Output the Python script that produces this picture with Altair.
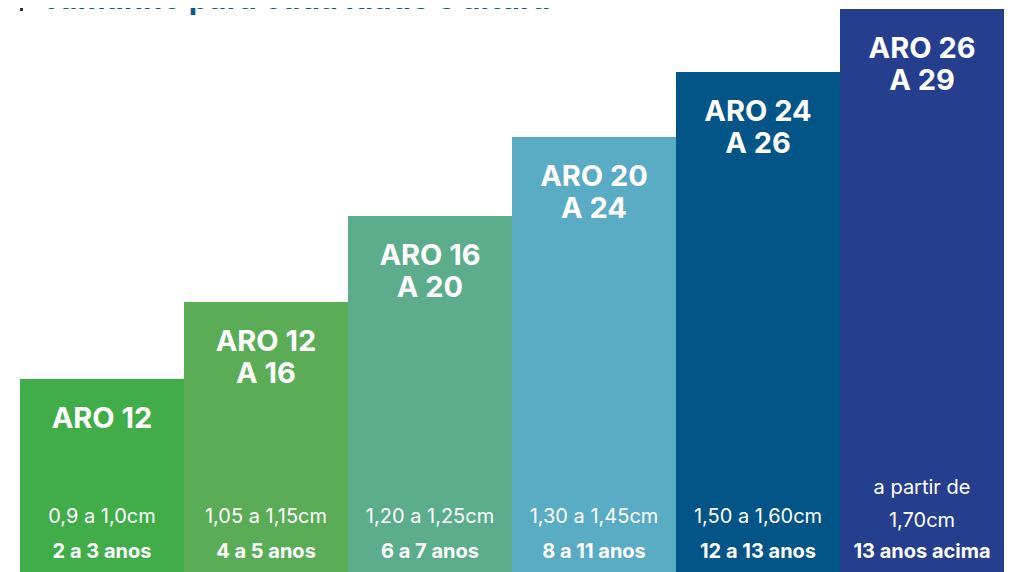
import altair as alt
import pandas as pd

# Data
aros = ["ARO 12", "ARO 12\nA 16", "ARO 16\nA 20", "ARO 20\nA 24", "ARO 24\nA 26", "ARO 26\nA 29"]
alturas = ["0,9 a 1,0cm", "1,05 a 1,15cm", "1,20 a 1,25cm", "1,30 a 1,45cm", "1,50 a 1,60cm", "a partir de\n1,70cm"]
idades = ["2 a 3 anos", "4 a 5 anos", "6 a 7 anos", "8 a 11 anos", "12 a 13 anos", "13 anos acima"]
nivel = [193, 270, 356, 435, 500, 563]
cores = ["#40ad49", "#5aad56", "#5bad8b", "#5aabc4", "#035487", "#263e8e"]
titulo = "Tamanho para cada idade e altura"

df = pd.DataFrame({
    "i": list(range(6)),
    "i2": [k + 1 for k in range(6)],
    "mid": [k + 0.5 for k in range(6)],
    "aro": [a.split("\n") for a in aros],
    "altura": [a.split("\n") for a in alturas],
    "nlin": [len(a.split("\n")) for a in alturas],
    "idade": idades,
    "nivel": nivel,
    "cor": cores,
})

W, H = 1000, 564
xs = alt.Scale(domain=[0, 6], range=[12, 996])
ys = alt.Scale(domain=[0, H], range=[H, 0])

base = alt.Chart(df)

bars = base.mark_rect().encode(
    x=alt.X("i:Q", scale=xs, axis=None),
    x2="i2:Q",
    y=alt.Y("nivel:Q", scale=ys, axis=None),
    y2=alt.datum(0),
    color=alt.Color("cor:N", scale=None, legend=None),
)

aro_txt = base.mark_text(
    font="Inter", fontWeight="bold", fontSize=29, color="white",
    baseline="top", align="center", dy=26, lineHeight=32,
).encode(
    x=alt.X("mid:Q", scale=xs),
    y=alt.Y("nivel:Q", scale=ys),
    text="aro",
)

# multi-line height labels are lifted so that the last line sits near the others
alt_txt = base.transform_calculate(
    y0="(datum.nlin - 1) * 29"
).mark_text(
    font="Inter", fontWeight="normal", fontSize=20, color="white",
    baseline="middle", align="center", dy=-55, lineHeight=33,
).encode(
    x=alt.X("mid:Q", scale=xs),
    y=alt.Y("y0:Q", scale=ys),
    text="altura",
)

idade_txt = base.transform_calculate(y0="0").mark_text(
    font="Inter", fontWeight="bold", fontSize=20, color="white",
    baseline="middle", align="center", dy=-20,
).encode(
    x=alt.X("mid:Q", scale=xs),
    y=alt.Y("y0:Q", scale=ys),
    text="idade",
)

tdf = pd.DataFrame({"t": [titulo]})
title_txt = alt.Chart(tdf).mark_text(
    font="Inter", fontWeight="bold", fontSize=31, color="#0c5892",
    baseline="alphabetic", align="left",
).encode(x=alt.value(33), y=alt.value(1), text="t")
title_bar = alt.Chart(tdf).mark_rule(color="#333333", strokeWidth=3).encode(
    x=alt.value(13.5), y=alt.value(-8), y2=alt.value(3)
)

chart = alt.layer(bars, aro_txt, alt_txt, idade_txt, title_txt, title_bar).properties(
    width=W, height=H,
    autosize=alt.AutoSizeParams(type="none"),
    padding=0,
).configure_view(stroke=None)

chart.save("out.html", embed_options={"renderer": "svg", "actions": False})
